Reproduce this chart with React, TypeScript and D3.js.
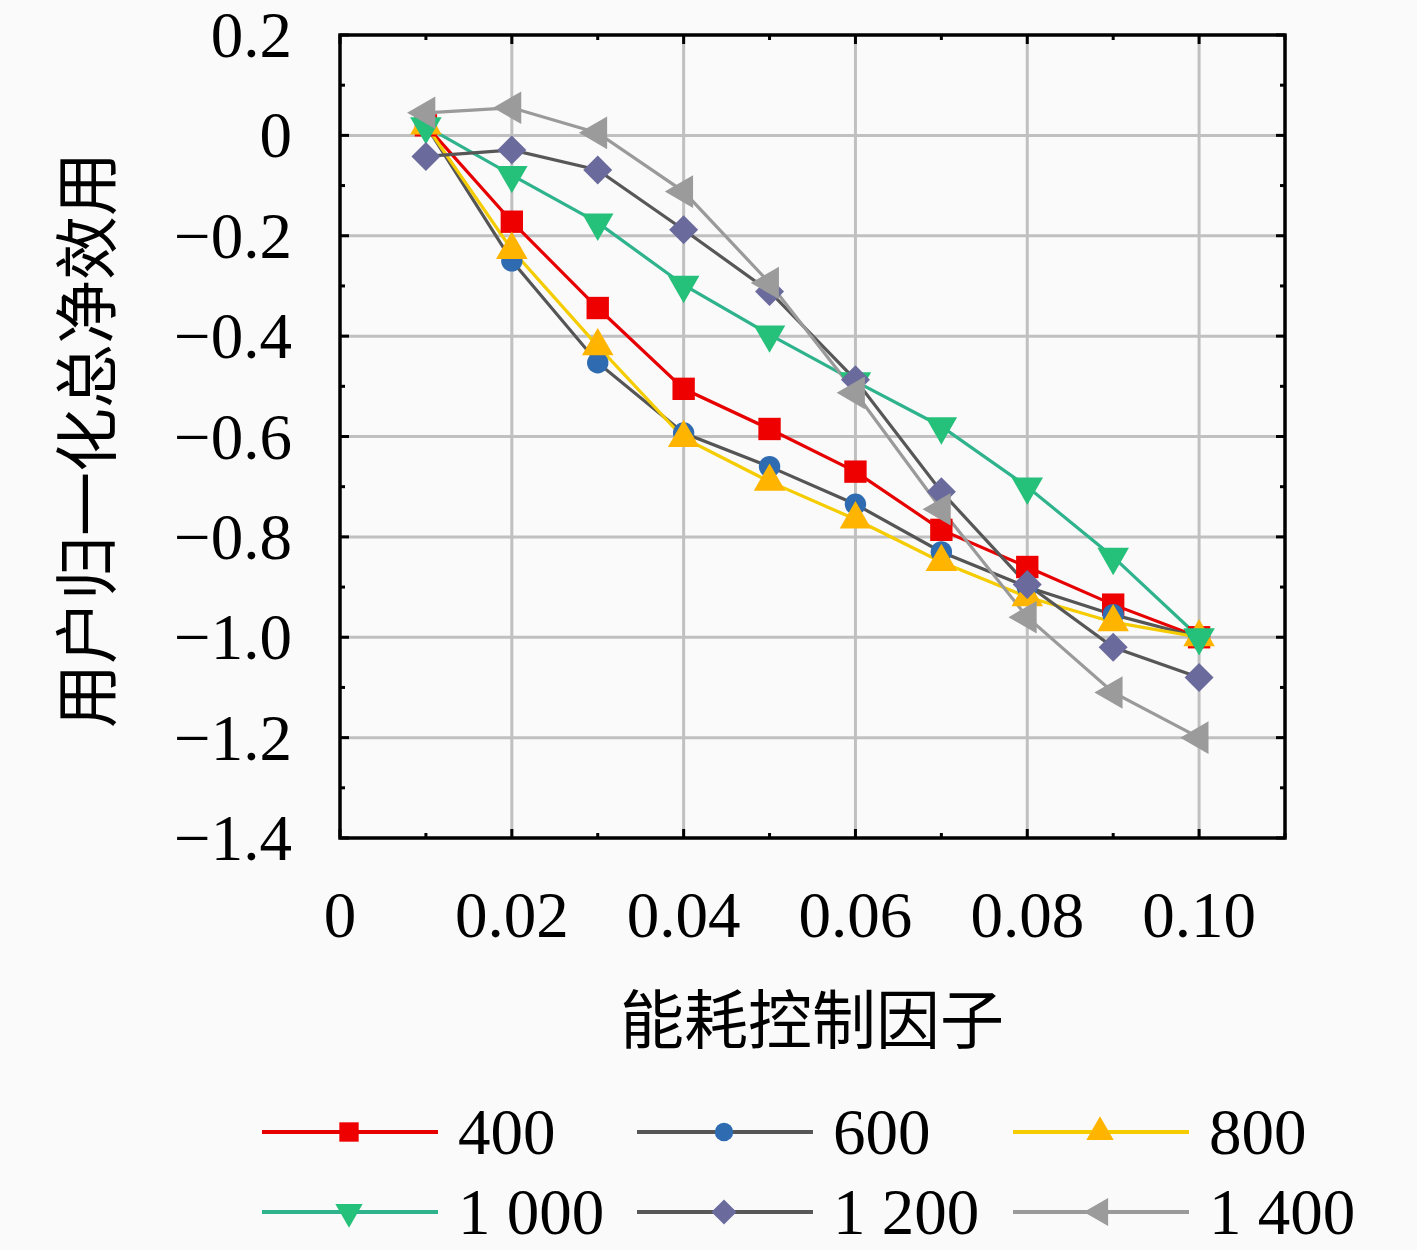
import * as d3 from 'd3';

const xFactors = [0.01, 0.02, 0.03, 0.04, 0.05, 0.06, 0.07, 0.08, 0.09, 0.1];

const s400 = [0.02, -0.172, -0.344, -0.505, -0.585, -0.67, -0.786, -0.86, -0.935, -1.0];
const s600 = [0.02, -0.25, -0.453, -0.593, -0.66, -0.735, -0.83, -0.9, -0.955, -1.0];
const s800 = [0.02, -0.228, -0.42, -0.603, -0.69, -0.765, -0.85, -0.92, -0.97, -1.0];
const s1000 = [0.018, -0.079, -0.174, -0.298, -0.397, -0.49, -0.58, -0.7, -0.84, -1.0];
const s1200 = [-0.042, -0.029, -0.069, -0.188, -0.311, -0.487, -0.71, -0.895, -1.02, -1.08];
const s1400 = [0.045, 0.055, 0.005, -0.112, -0.294, -0.513, -0.745, -0.96, -1.11, -1.2];

const seriesNames = ['400', '600', '800', '1 000', '1 200', '1 400'];

const xTicks = [0, 0.02, 0.04, 0.06, 0.08, 0.1];
const xTickLabels = ['0', '0.02', '0.04', '0.06', '0.08', '0.10'];
const yTicks = [0.2, 0, -0.2, -0.4, -0.6, -0.8, -1.0, -1.2, -1.4];
const yTickLabels = ['0.2', '0', '\u22120.2', '\u22120.4', '\u22120.6', '\u22120.8', '\u22121.0', '\u22121.2', '\u22121.4'];

const W = 1417;
const H = 1250;
const left = 340;
const right = 1285;
const top = 35;
const bottom = 838;

const numFont = '"Liberation Serif", "DejaVu Serif", serif';
const cjkFont = '"Noto Sans CJK SC", sans-serif';

type Style = { line: string; fill: string; symbol: d3.SymbolType; size: number; rotate: number };

const styles: Style[] = [
  { line: '#e60000', fill: '#ee0000', symbol: d3.symbolSquare, size: 500, rotate: 0 },
  { line: '#555555', fill: '#2f6bb0', symbol: d3.symbolCircle, size: 360, rotate: 0 },
  { line: '#f5cc00', fill: '#ffb400', symbol: d3.symbolTriangle, size: 430, rotate: 0 },
  { line: '#2eb38c', fill: '#25c07a', symbol: d3.symbolTriangle, size: 430, rotate: 180 },
  { line: '#575757', fill: '#6a6a9c', symbol: d3.symbolSquare, size: 420, rotate: 45 },
  { line: '#9a9a9a', fill: '#9b9b9b', symbol: d3.symbolTriangle, size: 460, rotate: -90 },
];

const allSeries = [s400, s600, s800, s1000, s1200, s1400];

export default function App() {
  const x = d3.scaleLinear().domain([0, 0.11]).range([left, right]);
  const y = d3.scaleLinear().domain([-1.4, 0.2]).range([bottom, top]);

  const line = d3
    .line<number>()
    .x((_, i) => x(xFactors[i]))
    .y((d) => y(d));

  const xMinor = d3.range(0, 12).map((i) => i * 0.01);
  const yMinor = d3.range(0, 17).map((i) => 0.2 - i * 0.1);
  const isMajorX = (v: number) => Math.abs(Math.round(v * 100) % 2) === 0;
  const isMajorY = (v: number) => Math.abs(Math.round(v * 10) % 2) === 0;

  const legendCols = [262, 637, 1013];
  const legendRows = [1132, 1212];

  return (
    <svg
      width={W}
      height={H}
      style={{ display: 'block', position: 'absolute', left: 0, top: 0, background: '#fafafa' }}
    >
      <rect x={0} y={0} width={W} height={H} fill="#fafafa" />
      {/* grid */}
      {xTicks.slice(1).map((t) => (
        <line key={'gx' + t} x1={x(t)} x2={x(t)} y1={top} y2={bottom} stroke="#c0c0c0" strokeWidth={3} />
      ))}
      {yTicks.slice(1, -1).map((t) => (
        <line key={'gy' + t} x1={left} x2={right} y1={y(t)} y2={y(t)} stroke="#c0c0c0" strokeWidth={3} />
      ))}
      {/* ticks inward on all sides */}
      {xMinor.map((t) => {
        const len = isMajorX(t) ? 9 : 5;
        return (
          <g key={'tx' + t}>
            <line x1={x(t)} x2={x(t)} y1={bottom} y2={bottom - len} stroke="#000" strokeWidth={3} />
            <line x1={x(t)} x2={x(t)} y1={top} y2={top + len} stroke="#000" strokeWidth={3} />
          </g>
        );
      })}
      {yMinor.map((t) => {
        const len = isMajorY(t) ? 9 : 5;
        return (
          <g key={'ty' + t}>
            <line x1={left} x2={left + len} y1={y(t)} y2={y(t)} stroke="#000" strokeWidth={3} />
            <line x1={right} x2={right - len} y1={y(t)} y2={y(t)} stroke="#000" strokeWidth={3} />
          </g>
        );
      })}
      <rect x={left} y={top} width={right - left} height={bottom - top} fill="none" stroke="#000" strokeWidth={3.5} />

      {/* series */}
      {allSeries.map((s, k) => (
        <path key={'l' + k} d={line(s) ?? ''} fill="none" stroke={styles[k].line} strokeWidth={3.2} />
      ))}
      {allSeries.map((s, k) => {
        const st = styles[k];
        const path = d3.symbol().type(st.symbol).size(st.size)() ?? '';
        return (
          <g key={'m' + k}>
            {s.map((v, i) => (
              <path
                key={i}
                d={path}
                fill={st.fill}
                transform={`translate(${x(xFactors[i])},${y(v)}) rotate(${st.rotate})`}
              />
            ))}
          </g>
        );
      })}

      {/* tick labels */}
      {xTicks.map((t, i) => (
        <text key={'xl' + t} x={x(t)} y={937} textAnchor="middle" fontFamily={numFont} fontSize={65} fill="#000">
          {xTickLabels[i]}
        </text>
      ))}
      {yTicks.map((t, i) => (
        <text key={'yl' + t} x={292} y={y(t) + 22} textAnchor="end" fontFamily={numFont} fontSize={65} fill="#000">
          {yTickLabels[i]}
        </text>
      ))}

      {/* axis titles */}
      <text x={812} y={1043} textAnchor="middle" fontFamily={cjkFont} fontSize={64} fill="#000">
        能耗控制因子
      </text>
      <text
        transform={`translate(110,440) rotate(-90)`}
        textAnchor="middle"
        fontFamily={cjkFont}
        fontSize={64}
        fill="#000"
      >
        用户归一化总净效用
      </text>

      {/* legend */}
      {seriesNames.map((name, k) => {
        const st = styles[k];
        const cx = legendCols[k % 3];
        const cy = legendRows[Math.floor(k / 3)];
        const path = d3.symbol().type(st.symbol).size(st.size * 0.75)() ?? '';
        return (
          <g key={'lg' + k}>
            <line x1={cx} x2={cx + 176} y1={cy} y2={cy} stroke={st.line} strokeWidth={4} />
            <path d={path} fill={st.fill} transform={`translate(${cx + 87},${cy}) rotate(${st.rotate})`} />
            <text x={cx + 196} y={cy + 22} fontFamily={numFont} fontSize={65} fill="#000">
              {name}
            </text>
          </g>
        );
      })}
    </svg>
  );
}
